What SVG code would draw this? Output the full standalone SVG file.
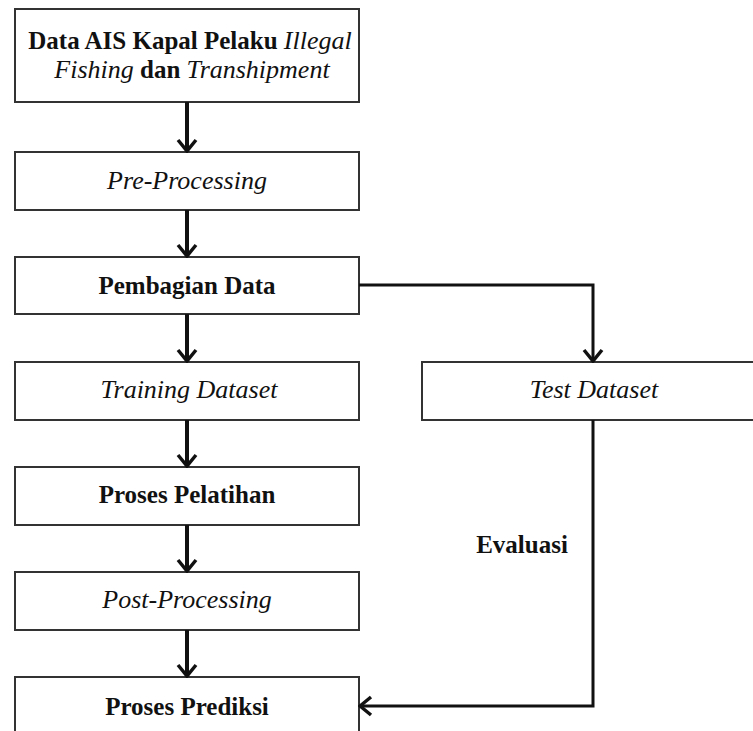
<svg xmlns="http://www.w3.org/2000/svg" width="753" height="731" viewBox="0 0 753 731">
<style>
.box{fill:#fff;stroke:#333;stroke-width:2}
.t{font-family:"Liberation Serif","Times New Roman",serif;font-size:25px;fill:#111;text-anchor:middle}
.b{font-weight:bold}
.i{font-style:italic;font-size:26px}
.c{fill:none;stroke:#111;stroke-width:4}
.c2{fill:none;stroke:#111;stroke-width:3}
</style>
<defs>
<marker id="ah" markerUnits="userSpaceOnUse" viewBox="-14 -12 16 24" markerWidth="16" markerHeight="24" refX="0" refY="0" orient="auto">
<path d="M-11,-9 L0,0 L-11,9" fill="none" stroke="#111" stroke-width="3.5"/>
</marker>
</defs>
<rect width="753" height="731" fill="#fff"/>
<g id="n1"><rect class="box" x="15" y="9" width="344" height="93"/>
<text class="t" x="190" y="49"><tspan class="b">Data AIS Kapal Pelaku </tspan><tspan class="i">Illegal</tspan></text>
<text class="t" x="192" y="78"><tspan class="i">Fishing</tspan><tspan class="b"> dan </tspan><tspan class="i">Transhipment</tspan></text></g>
<g id="n2"><rect class="box" x="15" y="152" width="344" height="58"/><text class="t i" x="187" y="189">Pre-Processing</text></g>
<g id="n3"><rect class="box" x="15" y="257" width="344" height="57"/><text class="t b" x="187" y="294">Pembagian Data</text></g>
<g id="n4"><rect class="box" x="15" y="362" width="344" height="58"/><text class="t i" x="189" y="398">Training Dataset</text></g>
<g id="n5"><rect class="box" x="422" y="362" width="350" height="58"/><text class="t i" x="594" y="398">Test Dataset</text></g>
<g id="n6"><rect class="box" x="15" y="467" width="344" height="58"/><text class="t b" x="187" y="503">Proses Pelatihan</text></g>
<g id="n7"><rect class="box" x="15" y="572" width="344" height="58"/><text class="t i" x="187" y="608">Post-Processing</text></g>
<g id="n8"><rect class="box" x="15" y="677" width="344" height="70"/><text class="t b" x="187" y="715">Proses Prediksi</text></g>
<g id="connectors">
<path class="c" d="M187,102 V151" marker-end="url(#ah)"/>
<path class="c" d="M187,210 V256" marker-end="url(#ah)"/>
<path class="c" d="M187,314 V361" marker-end="url(#ah)"/>
<path class="c" d="M187,420 V466" marker-end="url(#ah)"/>
<path class="c" d="M187,525 V571" marker-end="url(#ah)"/>
<path class="c" d="M187,630 V676" marker-end="url(#ah)"/>
<path class="c2" d="M359,285 H593 V361" marker-end="url(#ah)"/>
<path class="c2" d="M593,420 V706 H360" marker-end="url(#ah)"/>
<text class="t b" x="522" y="553">Evaluasi</text>
</g>
</svg>
